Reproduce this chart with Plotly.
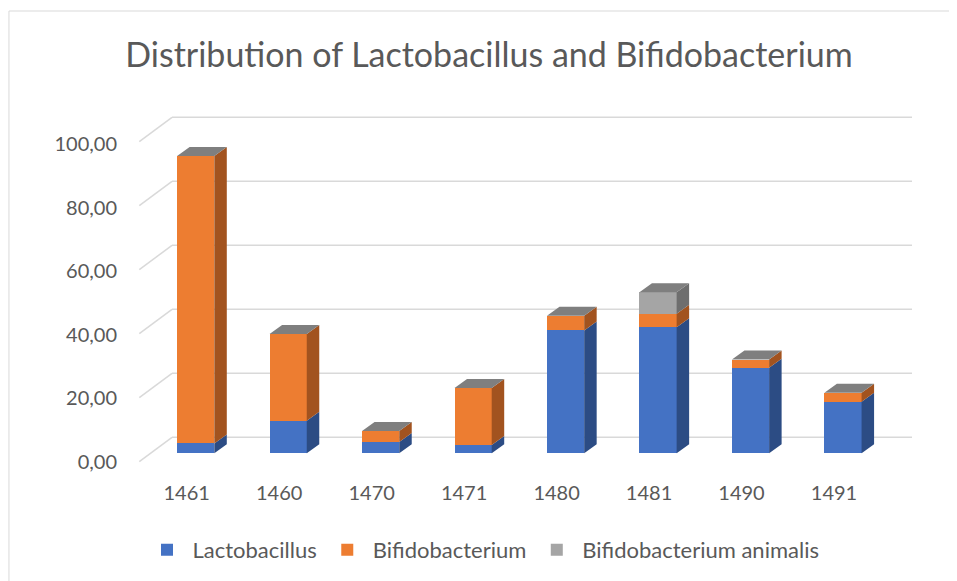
import numpy as np
import plotly.graph_objects as go

# ---------------- data ----------------
categories = ["1461", "1460", "1470", "1471", "1480", "1481", "1490", "1491"]
lactobacillus = [3.1, 10.2, 3.5, 2.6, 38.4, 39.4, 26.7, 16.1]
bifidobacterium = [89.8, 27.1, 3.5, 17.8, 4.6, 4.2, 2.6, 2.8]
bifido_animalis = [0.0, 0.0, 0.0, 0.0, 0.0, 6.7, 0.0, 0.0]
series_names = ["Lactobacillus", "Bifidobacterium", "Bifidobacterium animalis"]
y_ticks = [0, 20, 40, 60, 80, 100]
y_ticktext = ["0,00", "20,00", "40,00", "60,00", "80,00", "100,00"]

# ---------------- styling ----------------
OFF = 8  # page body margin of the html page
W, H = 957 - OFF, 581 - OFF
front_colors = ["#4472c4", "#ed7d31", "#a5a5a5"]
side_colors = ["#2c4c84", "#a2531f", "#6e6e6e"]
top_color = "#7f7f7f"
text_color = "#595959"
font_family = "Lato"
grid_color = "#d9d9d9"


def px(p):
    return p - OFF


bar_w = 0.402
px_per_cat = 92.47
first_center_px = px(195.7)
px_per_unit = 3.2
zero_px = px(453.3)           # pixel row of value 0 on bar front plane
axis_line_px = px(479.0)      # pixel row of the (hidden) x axis line
depth_dx = 12.5 / px_per_cat
depth_dy = 9.0 / px_per_unit
grid_shift = 16.0 / px_per_unit     # back wall offset
front_shift = 24.4 / px_per_unit    # front edge of floor/diagonals
wall_left_px, wall_right_px, front_left_px = px(172.0), px(912.0), px(139.3)

x_idx = np.arange(len(categories))
x_range = [-first_center_px / px_per_cat, -first_center_px / px_per_cat + W / px_per_cat]
y_range = [(zero_px - axis_line_px) / px_per_unit, zero_px / px_per_unit]
y_dom0 = 1 - axis_line_px / H

fig = go.Figure()

series = [np.array(lactobacillus), np.array(bifidobacterium), np.array(bifido_animalis)]
for name, vals, col in zip(series_names, series, front_colors):
    fig.add_trace(go.Bar(
        x=x_idx, y=vals, name=name, width=bar_w,
        marker=dict(color=col, line=dict(width=0)),
        hoverinfo="y+name",
    ))

# side faces (3D depth), computed from stacked data
stack = np.vstack(series)
bottoms = np.vstack([np.zeros(len(categories)), np.cumsum(stack, axis=0)[:-1]])
tops = np.cumsum(stack, axis=0)
for s, col in enumerate(side_colors):
    xs, ys = [], []
    for i in x_idx:
        b, t = bottoms[s, i], tops[s, i]
        if t - b <= 0:
            continue
        xr = i + bar_w / 2
        xs += [xr, xr + depth_dx, xr + depth_dx, xr, xr, None]
        ys += [b, b + depth_dy, t + depth_dy, t, b, None]
    if xs:
        fig.add_trace(go.Scatter(
            x=xs, y=ys, mode="lines", fill="toself", fillcolor=col,
            line=dict(width=0, color=col), showlegend=False, hoverinfo="skip",
        ))

# top faces
totals = tops[-1]
xs, ys = [], []
for i in x_idx:
    xl, xr, T = i - bar_w / 2, i + bar_w / 2, totals[i]
    xs += [xl, xl + depth_dx, xr + depth_dx, xr, xl, None]
    ys += [T, T + depth_dy, T + depth_dy, T, T, None]
fig.add_trace(go.Scatter(
    x=xs, y=ys, mode="lines", fill="toself", fillcolor=top_color,
    line=dict(width=0, color=top_color), showlegend=False, hoverinfo="skip",
))

# back-wall gridlines and floor diagonals
shapes = []
for v in y_ticks:
    shapes.append(dict(type="line", xref="paper", yref="y",
                       x0=wall_left_px / W, x1=wall_right_px / W,
                       y0=v + grid_shift, y1=v + grid_shift,
                       line=dict(color=grid_color, width=1.5), layer="below"))
    shapes.append(dict(type="line", xref="paper", yref="y",
                       x0=front_left_px / W, x1=wall_left_px / W,
                       y0=v + grid_shift - front_shift, y1=v + grid_shift,
                       line=dict(color=grid_color, width=1.5), layer="below"))
# chart border
shapes.append(dict(type="rect", xref="paper", yref="paper",
                   x0=0.001, x1=1.02, y0=-0.02, y1=1 - px(11) / H,
                   line=dict(color="#d9d9d9", width=1), layer="below"))

label_scale = (461.7 - 144.3) / (100 * px_per_unit)
fig.update_layout(
    width=W, height=H,
    margin=dict(l=0, r=0, t=0, b=0),
    paper_bgcolor="white", plot_bgcolor="rgba(0,0,0,0)",
    barmode="stack", bargap=0,
    font=dict(family=font_family, color=text_color, size=20),
    title=dict(text="Distribution of Lactobacillus and Bifidobacterium",
               x=px(489) / W, xanchor="center", y=1 - px(55) / H, yanchor="middle",
               xref="paper", yref="container",
               font=dict(family=font_family, size=34, color=text_color)),
    xaxis=dict(domain=[0, 1], range=x_range, showgrid=False, zeroline=False,
               showline=False, ticks="",
               tickvals=list(x_idx - 9.0 / px_per_cat), ticktext=categories,
               tickfont=dict(size=20, color=text_color, family=font_family)),
    yaxis=dict(domain=[y_dom0, 1], range=y_range, showgrid=False, zeroline=False,
               showline=False, ticks="", anchor="free", position=px(117) / W,
               tickvals=[(zero_px - px(461.7)) / px_per_unit + v * label_scale for v in y_ticks],
               ticktext=y_ticktext,
               tickfont=dict(size=20, color=text_color, family=font_family)),
    legend=dict(orientation="h", x=px(483) / W, xanchor="center",
                y=1 - px(550) / H, yanchor="middle", itemwidth=41,
                traceorder="normal",
                font=dict(size=22, color=text_color, family=font_family),
                bgcolor="rgba(0,0,0,0)"),
    shapes=shapes,
)

fig.write_html("out.html")
